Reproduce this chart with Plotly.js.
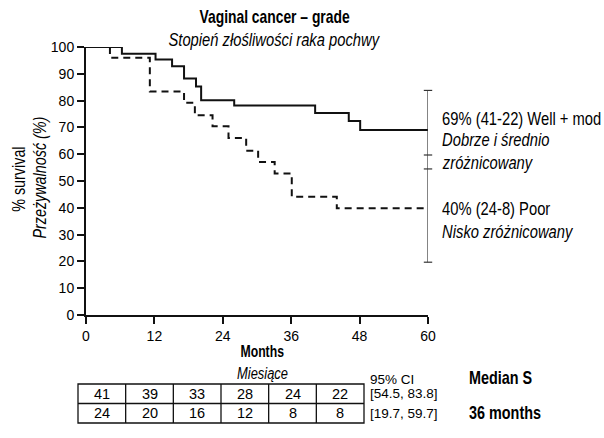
<!DOCTYPE html>
<html><head><meta charset="utf-8">
<script src="https://cdn.plot.ly/plotly-3.0.1.min.js"></script>
<style>html,body{margin:0;padding:0;background:#fff}#chart{width:604px;height:438px}</style>
</head><body><div id="chart"></div>
<script>
// ---- data ----
const monthTicks = [0, 12, 24, 36, 48, 60];
const survTicks = [0, 10, 20, 30, 40, 50, 60, 70, 80, 90, 100];
const wellTime = [0, 6.3, 12.2, 15.1, 17.2, 19.3, 20.2, 26.0, 40.2, 46.1, 48.1, 60];
const wellSurv = [100, 97.5, 95.3, 92.8, 88.2, 85.3, 80.1, 78.2, 75.4, 72.4, 69.0, 69.0];
const poorTime = [0, 4.2, 11.2, 17.2, 19.1, 22.2, 25.0, 28.1, 30.2, 33.1, 36.1, 44.0, 60];
const poorSurv = [100, 96.0, 83.4, 79.2, 74.5, 70.4, 66.0, 61.3, 57.1, 52.8, 44.1, 39.8, 39.8];
const ciWell = [54.5, 83.8];
const ciPoor = [19.7, 59.7];
const atRiskWell = [41, 39, 33, 28, 24, 22];
const atRiskPoor = [24, 20, 16, 12, 8, 8];
const ciLabels = ['[54.5, 83.8]', '[19.7, 59.7]'];
const medianLabels = ['', '<b>36 months</b>'];
const wellLabel = ['69% (41-22) Well + mod', '<i>Dobrze i średnio</i>', '<i>zróżnicowany</i>'];
const poorLabel = ['40% (24-8) Poor', '<i>Nisko zróżnicowany</i>'];
const titleLines = ['<b>Vaginal cancer – grade</b>', '<i>Stopień złośliwości raka pochwy</i>'];
const yTitleLines = ['% survival', '<i>Przeżywalność (%)</i>'];
const xTitleLines = ['<b>Months</b>', '<i>Miesiące</i>'];
const tableHead = ['95% CI', '<b>Median S</b>'];

// ---- layout helpers ----
const L = 86, T = 47, W = 342, H = 268;
const px = x => (x - L) / W;
const py = y => (T + H - y) / H;
const SANS = '"Liberation Sans", Arial, sans-serif';
const ink = '#000';

const ciAll = ciWell.concat(ciPoor);
const traces = [
  {x: wellTime, y: wellSurv, mode: 'lines', line: {shape: 'hv', color: '#111', width: 2}, cliponaxis: false, hoverinfo: 'skip'},
  {x: poorTime, y: poorSurv, mode: 'lines', line: {shape: 'hv', color: '#111', width: 2, dash: '7px,5px'}, cliponaxis: false, hoverinfo: 'skip'},
  {x: [monthTicks[5], monthTicks[5]], y: [Math.min(...ciAll), Math.max(...ciAll)], mode: 'lines', line: {color: '#333', width: 1.2}, cliponaxis: false, hoverinfo: 'skip'},
  {x: ciAll.map(() => monthTicks[5]), y: ciAll, mode: 'markers', marker: {symbol: 'line-ew-open', size: 6, color: '#333', line: {color: '#333', width: 1.2}}, cliponaxis: false, hoverinfo: 'skip'}
];

const ann = [];
const squeeze = [];
const shapes = [];
function txt(x, y, text, size, extra, sx) {
  ann.push(Object.assign({xref: 'paper', yref: 'paper', x: x, y: y, text: text, showarrow: false,
    xanchor: 'center', yanchor: 'middle', font: {family: SANS, size: size, color: ink}}, extra || {}));
  squeeze.push(sx || 1);
}
// titles
txt(px(274.5), py(17), titleLines[0], 18, null, 0.77);
txt(px(274), py(40), titleLines[1], 18, null, 0.82);
// y title
txt(px(19), py(179), yTitleLines[0], 17.5, {textangle: -90}, 0.82);
txt(px(40), py(178), yTitleLines[1], 17.5, {textangle: -90}, 0.82);
// x title
txt(px(262), py(351), xTitleLines[0], 17, null, 0.72);
txt(px(262), py(373), xTitleLines[1], 17, null, 0.76);
// right labels
const wellPx = [119, 140, 163];
wellLabel.forEach((t, i) => txt(px(440), py(wellPx[i]), t, 18, {xanchor: 'left'}, 0.82));
const poorPx = [209, 232];
poorLabel.forEach((t, i) => txt(px(440), py(poorPx[i]), t, 18, {xanchor: 'left'}, 0.82));

// at-risk table
const tL = 78, tR = 364, tTop = 384, tMid = 403.5, tBot = 423;
const cw = (tR - tL) / atRiskWell.length;
shapes.push({type: 'rect', xref: 'paper', yref: 'paper', x0: px(tL), x1: px(tR), y0: py(tBot), y1: py(tTop), line: {color: '#111', width: 1.3}});
shapes.push({type: 'line', xref: 'paper', yref: 'paper', x0: px(tL), x1: px(tR), y0: py(tMid), y1: py(tMid), line: {color: '#111', width: 1.3}});
for (let i = 1; i < atRiskWell.length; i++) {
  shapes.push({type: 'line', xref: 'paper', yref: 'paper', x0: px(tL + i * cw), x1: px(tL + i * cw), y0: py(tBot), y1: py(tTop), line: {color: '#111', width: 1.3}});
}
[atRiskWell, atRiskPoor].forEach((row, r) => {
  const yc = r === 0 ? (tTop + tMid) / 2 : (tMid + tBot) / 2;
  row.forEach((v, i) => txt(px(tL + (i + 0.5) * cw), py(yc), String(v), 14.5));
});
txt(px(368), py(379), tableHead[0], 13.5, {xanchor: 'left'});
txt(px(467), py(378), tableHead[1], 18, {xanchor: 'left'}, 0.8);
ciLabels.forEach((t, r) => {
  const yc = r === 0 ? (tTop + tMid) / 2 : (tMid + tBot) / 2;
  txt(px(368), py(yc), t, 13.5, {xanchor: 'left'});
  if (medianLabels[r]) txt(px(467), py(yc), medianLabels[r], 18, {xanchor: 'left'}, 0.8);
});

const layout = {
  width: 604, height: 438,
  margin: {l: L, r: 604 - L - W, t: T, b: 438 - T - H},
  paper_bgcolor: '#fff', plot_bgcolor: '#fff',
  showlegend: false,
  font: {family: SANS, color: ink},
  xaxis: {range: [0, 60], tickvals: monthTicks, ticktext: monthTicks.map(String), ticks: 'outside', ticklen: 7, tickwidth: 2,
    tickcolor: '#111', showline: true, linewidth: 2, linecolor: '#111', showgrid: false, zeroline: false,
    tickfont: {family: SANS, size: 14, color: ink}, fixedrange: true},
  yaxis: {range: [0, 100], tickvals: survTicks, ticktext: survTicks.map(String), ticks: 'outside', ticklen: 7, tickwidth: 2,
    tickcolor: '#111', showline: true, linewidth: 2, linecolor: '#111', showgrid: false, zeroline: false,
    tickfont: {family: SANS, size: 14, color: ink}, fixedrange: true},
  annotations: ann,
  shapes: shapes
};
Plotly.newPlot('chart', traces, layout, {displayModeBar: false, staticPlot: true}).then(() => {
  // emulate a condensed (Arial Narrow-like) face by squeezing the text horizontally
  ann.forEach((a, i) => {
    if (squeeze[i] === 1) return;
    const el = document.querySelector('.annotation[data-index="' + i + '"] text.annotation-text');
    if (!el) return;
    el.style.transformBox = 'fill-box';
    el.style.transformOrigin = a.xanchor === 'left' ? 'left center' : 'center center';
    el.style.transform = 'scaleX(' + squeeze[i] + ')';
  });
});
</script>
</body></html>
